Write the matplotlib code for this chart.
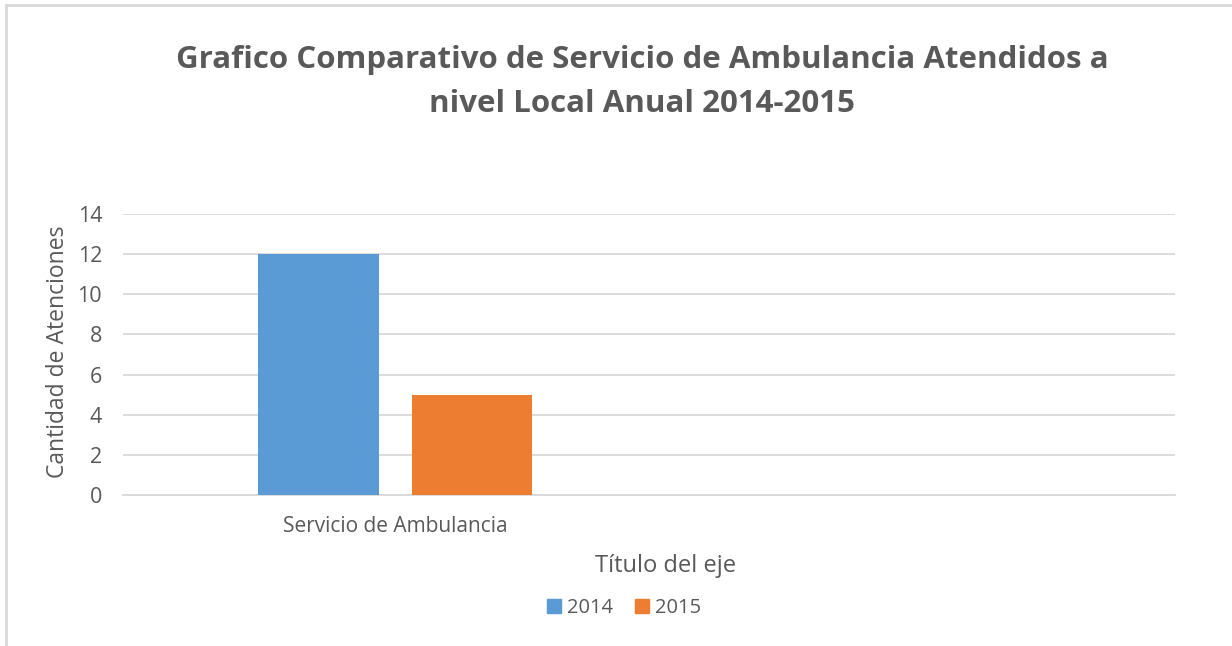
import matplotlib
matplotlib.use("Agg")
import matplotlib.pyplot as plt
from matplotlib.patches import Patch
from matplotlib.lines import Line2D

categories = ["Servicio de Ambulancia"]
series_names = ["2014", "2015"]
values_2014 = [12]
values_2015 = [5]
yticks = [0, 2, 4, 6, 8, 10, 12, 14]

title = "Grafico Comparativo de Servicio de Ambulancia Atendidos a\nnivel Local Anual 2014-2015"
ylabel = "Cantidad de Atenciones"
xlabel = "Título del eje"

TEXT = "#595959"
GRID = "#d9d9d9"
BLUE = "#5b9bd5"
ORANGE = "#ed7d31"
FONT = ["Open Sans", "DejaVu Sans"]

plt.rcParams["font.family"] = FONT

fig = plt.figure(figsize=(12.32, 6.46), dpi=100)
fig.patch.set_facecolor("white")

# outer chart border (top and left visible)
fig.add_artist(Line2D([6/1232, 6/1232], [0, 1 - 5/646], color=GRID, lw=2, transform=fig.transFigure))
fig.add_artist(Line2D([6/1232, 1], [1 - 5/646, 1 - 5/646], color=GRID, lw=2, transform=fig.transFigure))

ax = fig.add_axes([123/1232, 1 - 495/646, (1175 - 123)/1232, (495 - 214)/646])

x = list(range(len(categories)))
bw = 0.23
off = 0.1455
ax.bar([i - off for i in x], values_2014, width=bw, color=BLUE, zorder=3, label=series_names[0])
ax.bar([i + off for i in x], values_2015, width=bw, color=ORANGE, zorder=3, label=series_names[1])

ax.set_xlim(-0.518, 1.482)
ax.set_ylim(0, 14)
ax.set_yticks(yticks)
ax.set_yticklabels([str(v) for v in yticks], fontsize=15.5, color=TEXT)
ax.set_xticks(x)
ax.set_xticklabels(categories, fontsize=15, color=TEXT)
ax.tick_params(axis="both", length=0)
ax.tick_params(axis="y", pad=15)
ax.tick_params(axis="x", pad=15)

ax.grid(axis="y", color=GRID, lw=1.3, zorder=0)
for s in ["top", "right", "left"]:
    ax.spines[s].set_visible(False)
ax.spines["bottom"].set_color(GRID)
ax.spines["bottom"].set_linewidth(1.3)

fig.text(58/1232, 1 - 352/646, ylabel, rotation=90, ha="center", va="center", fontsize=16.5, color=TEXT)
fig.text(666/1232, 1 - 566/646, xlabel, ha="center", va="center", fontsize=17, color=TEXT)

fig.text(642/1232, 1 - 82/646, title, ha="center", va="center", fontsize=22.5, fontweight="bold",
         color=TEXT, linespacing=1.62)

handles = [Patch(color=BLUE, label=series_names[0]), Patch(color=ORANGE, label=series_names[1])]
fig.legend(handles=handles, loc="center", bbox_to_anchor=(624/1232, 1 - 608/646), ncol=2,
           frameon=False, fontsize=14.5, labelcolor=TEXT, handlelength=0.7, handleheight=0.7,
           handletextpad=0.3, columnspacing=1.1)

fig.savefig("out.png", dpi=100)
